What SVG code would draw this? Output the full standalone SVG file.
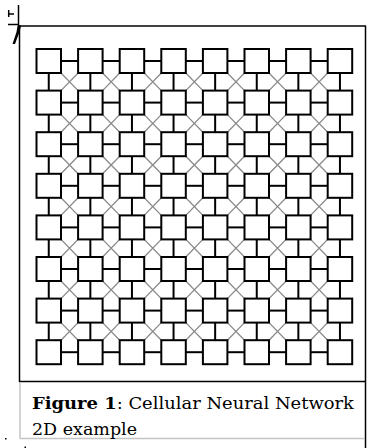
<svg xmlns="http://www.w3.org/2000/svg" xmlns:xlink="http://www.w3.org/1999/xlink" width="368" height="448" viewBox="0 0 368 448">
<style>
.sq{fill:#fff;stroke:#000;stroke-width:2}
.c{stroke:#000;stroke-width:2;fill:none}
.d{stroke:#8a8a8a;stroke-width:1.3;fill:none}
.fr{stroke:#000;stroke-width:1.5;fill:none}
.gb{stroke:#c4c4c4;stroke-width:1.5;fill:none}
.cap{font-family:"DejaVu Serif","Liberation Serif",serif;font-size:16px;fill:#000}
</style>
<defs>
<line id="h" x1="0" y1="0" x2="17.1" y2="0"/>
<line id="v" x1="0" y1="0" x2="0" y2="17.6"/>
<path id="x" d="M0 0L17.1 17.6M17.1 0L0 17.6"/>
<rect id="s" width="24.5" height="24"/>
</defs>
<rect width="368" height="448" fill="#fff"/>
<!-- top-left marks -->
<g id="marks" class="fr">
<line x1="8.7" y1="10" x2="8.7" y2="17"/>
<line x1="9" y1="14" x2="14" y2="14"/>
<line x1="8" y1="24.5" x2="19" y2="24.5"/>
<line x1="18.5" y1="5" x2="18.5" y2="26"/>
<path d="M17.5 26L21 26L19.5 32L15 44L12.5 44L16.5 32Z" fill="#000" stroke="none"/>
</g>
<!-- frame -->
<g id="frame">
<line class="fr" x1="19.5" y1="25" x2="19.5" y2="382"/>
<line class="fr" x1="19" y1="26" x2="365.5" y2="26"/>
<line class="fr" x1="19" y1="381.5" x2="365.5" y2="381.5"/>
<line class="fr" x1="365.5" y1="25.5" x2="365.5" y2="448"/>
<line class="gb" x1="20" y1="382" x2="20" y2="438.5"/>
<line class="gb" x1="20" y1="438.5" x2="364.5" y2="438.5"/>
<rect x="5" y="438" width="1.5" height="1.5" fill="#000"/>
<rect x="24.5" y="446.5" width="1.5" height="1.5" fill="#000"/>
</g>
<g id="connectors">
<g class="d">
<use href="#x" x="61" y="73"/><use href="#x" x="102.6" y="73"/><use href="#x" x="144.2" y="73"/><use href="#x" x="185.8" y="73"/><use href="#x" x="227.4" y="73"/><use href="#x" x="269" y="73"/><use href="#x" x="310.6" y="73"/>
<use href="#x" x="61" y="114.6"/><use href="#x" x="102.6" y="114.6"/><use href="#x" x="144.2" y="114.6"/><use href="#x" x="185.8" y="114.6"/><use href="#x" x="227.4" y="114.6"/><use href="#x" x="269" y="114.6"/><use href="#x" x="310.6" y="114.6"/>
<use href="#x" x="61" y="156.2"/><use href="#x" x="102.6" y="156.2"/><use href="#x" x="144.2" y="156.2"/><use href="#x" x="185.8" y="156.2"/><use href="#x" x="227.4" y="156.2"/><use href="#x" x="269" y="156.2"/><use href="#x" x="310.6" y="156.2"/>
<use href="#x" x="61" y="197.8"/><use href="#x" x="102.6" y="197.8"/><use href="#x" x="144.2" y="197.8"/><use href="#x" x="185.8" y="197.8"/><use href="#x" x="227.4" y="197.8"/><use href="#x" x="269" y="197.8"/><use href="#x" x="310.6" y="197.8"/>
<use href="#x" x="61" y="239.4"/><use href="#x" x="102.6" y="239.4"/><use href="#x" x="144.2" y="239.4"/><use href="#x" x="185.8" y="239.4"/><use href="#x" x="227.4" y="239.4"/><use href="#x" x="269" y="239.4"/><use href="#x" x="310.6" y="239.4"/>
<use href="#x" x="61" y="281"/><use href="#x" x="102.6" y="281"/><use href="#x" x="144.2" y="281"/><use href="#x" x="185.8" y="281"/><use href="#x" x="227.4" y="281"/><use href="#x" x="269" y="281"/><use href="#x" x="310.6" y="281"/>
<use href="#x" x="61" y="322.6"/><use href="#x" x="102.6" y="322.6"/><use href="#x" x="144.2" y="322.6"/><use href="#x" x="185.8" y="322.6"/><use href="#x" x="227.4" y="322.6"/><use href="#x" x="269" y="322.6"/><use href="#x" x="310.6" y="322.6"/>
</g>
<g class="c">
<use href="#h" x="61" y="61"/><use href="#h" x="102.6" y="61"/><use href="#h" x="144.2" y="61"/><use href="#h" x="185.8" y="61"/><use href="#h" x="227.4" y="61"/><use href="#h" x="269" y="61"/><use href="#h" x="310.6" y="61"/>
<use href="#h" x="61" y="102.6"/><use href="#h" x="102.6" y="102.6"/><use href="#h" x="144.2" y="102.6"/><use href="#h" x="185.8" y="102.6"/><use href="#h" x="227.4" y="102.6"/><use href="#h" x="269" y="102.6"/><use href="#h" x="310.6" y="102.6"/>
<use href="#h" x="61" y="144.2"/><use href="#h" x="102.6" y="144.2"/><use href="#h" x="144.2" y="144.2"/><use href="#h" x="185.8" y="144.2"/><use href="#h" x="227.4" y="144.2"/><use href="#h" x="269" y="144.2"/><use href="#h" x="310.6" y="144.2"/>
<use href="#h" x="61" y="185.8"/><use href="#h" x="102.6" y="185.8"/><use href="#h" x="144.2" y="185.8"/><use href="#h" x="185.8" y="185.8"/><use href="#h" x="227.4" y="185.8"/><use href="#h" x="269" y="185.8"/><use href="#h" x="310.6" y="185.8"/>
<use href="#h" x="61" y="227.4"/><use href="#h" x="102.6" y="227.4"/><use href="#h" x="144.2" y="227.4"/><use href="#h" x="185.8" y="227.4"/><use href="#h" x="227.4" y="227.4"/><use href="#h" x="269" y="227.4"/><use href="#h" x="310.6" y="227.4"/>
<use href="#h" x="61" y="269"/><use href="#h" x="102.6" y="269"/><use href="#h" x="144.2" y="269"/><use href="#h" x="185.8" y="269"/><use href="#h" x="227.4" y="269"/><use href="#h" x="269" y="269"/><use href="#h" x="310.6" y="269"/>
<use href="#h" x="61" y="310.6"/><use href="#h" x="102.6" y="310.6"/><use href="#h" x="144.2" y="310.6"/><use href="#h" x="185.8" y="310.6"/><use href="#h" x="227.4" y="310.6"/><use href="#h" x="269" y="310.6"/><use href="#h" x="310.6" y="310.6"/>
<use href="#h" x="61" y="352.2"/><use href="#h" x="102.6" y="352.2"/><use href="#h" x="144.2" y="352.2"/><use href="#h" x="185.8" y="352.2"/><use href="#h" x="227.4" y="352.2"/><use href="#h" x="269" y="352.2"/><use href="#h" x="310.6" y="352.2"/>
<use href="#v" x="48.75" y="73"/><use href="#v" x="48.75" y="114.6"/><use href="#v" x="48.75" y="156.2"/><use href="#v" x="48.75" y="197.8"/><use href="#v" x="48.75" y="239.4"/><use href="#v" x="48.75" y="281"/><use href="#v" x="48.75" y="322.6"/>
<use href="#v" x="90.35" y="73"/><use href="#v" x="90.35" y="114.6"/><use href="#v" x="90.35" y="156.2"/><use href="#v" x="90.35" y="197.8"/><use href="#v" x="90.35" y="239.4"/><use href="#v" x="90.35" y="281"/><use href="#v" x="90.35" y="322.6"/>
<use href="#v" x="131.95" y="73"/><use href="#v" x="131.95" y="114.6"/><use href="#v" x="131.95" y="156.2"/><use href="#v" x="131.95" y="197.8"/><use href="#v" x="131.95" y="239.4"/><use href="#v" x="131.95" y="281"/><use href="#v" x="131.95" y="322.6"/>
<use href="#v" x="173.55" y="73"/><use href="#v" x="173.55" y="114.6"/><use href="#v" x="173.55" y="156.2"/><use href="#v" x="173.55" y="197.8"/><use href="#v" x="173.55" y="239.4"/><use href="#v" x="173.55" y="281"/><use href="#v" x="173.55" y="322.6"/>
<use href="#v" x="215.15" y="73"/><use href="#v" x="215.15" y="114.6"/><use href="#v" x="215.15" y="156.2"/><use href="#v" x="215.15" y="197.8"/><use href="#v" x="215.15" y="239.4"/><use href="#v" x="215.15" y="281"/><use href="#v" x="215.15" y="322.6"/>
<use href="#v" x="256.75" y="73"/><use href="#v" x="256.75" y="114.6"/><use href="#v" x="256.75" y="156.2"/><use href="#v" x="256.75" y="197.8"/><use href="#v" x="256.75" y="239.4"/><use href="#v" x="256.75" y="281"/><use href="#v" x="256.75" y="322.6"/>
<use href="#v" x="298.35" y="73"/><use href="#v" x="298.35" y="114.6"/><use href="#v" x="298.35" y="156.2"/><use href="#v" x="298.35" y="197.8"/><use href="#v" x="298.35" y="239.4"/><use href="#v" x="298.35" y="281"/><use href="#v" x="298.35" y="322.6"/>
<use href="#v" x="339.95" y="73"/><use href="#v" x="339.95" y="114.6"/><use href="#v" x="339.95" y="156.2"/><use href="#v" x="339.95" y="197.8"/><use href="#v" x="339.95" y="239.4"/><use href="#v" x="339.95" y="281"/><use href="#v" x="339.95" y="322.6"/>
</g>
</g>
<g id="nodes" class="sq">
<g id="n1-1"><use href="#s" x="36.5" y="49"/></g><g id="n1-2"><use href="#s" x="78.1" y="49"/></g><g id="n1-3"><use href="#s" x="119.7" y="49"/></g><g id="n1-4"><use href="#s" x="161.3" y="49"/></g><g id="n1-5"><use href="#s" x="202.9" y="49"/></g><g id="n1-6"><use href="#s" x="244.5" y="49"/></g><g id="n1-7"><use href="#s" x="286.1" y="49"/></g><g id="n1-8"><use href="#s" x="327.7" y="49"/></g>
<g id="n2-1"><use href="#s" x="36.5" y="90.6"/></g><g id="n2-2"><use href="#s" x="78.1" y="90.6"/></g><g id="n2-3"><use href="#s" x="119.7" y="90.6"/></g><g id="n2-4"><use href="#s" x="161.3" y="90.6"/></g><g id="n2-5"><use href="#s" x="202.9" y="90.6"/></g><g id="n2-6"><use href="#s" x="244.5" y="90.6"/></g><g id="n2-7"><use href="#s" x="286.1" y="90.6"/></g><g id="n2-8"><use href="#s" x="327.7" y="90.6"/></g>
<g id="n3-1"><use href="#s" x="36.5" y="132.2"/></g><g id="n3-2"><use href="#s" x="78.1" y="132.2"/></g><g id="n3-3"><use href="#s" x="119.7" y="132.2"/></g><g id="n3-4"><use href="#s" x="161.3" y="132.2"/></g><g id="n3-5"><use href="#s" x="202.9" y="132.2"/></g><g id="n3-6"><use href="#s" x="244.5" y="132.2"/></g><g id="n3-7"><use href="#s" x="286.1" y="132.2"/></g><g id="n3-8"><use href="#s" x="327.7" y="132.2"/></g>
<g id="n4-1"><use href="#s" x="36.5" y="173.8"/></g><g id="n4-2"><use href="#s" x="78.1" y="173.8"/></g><g id="n4-3"><use href="#s" x="119.7" y="173.8"/></g><g id="n4-4"><use href="#s" x="161.3" y="173.8"/></g><g id="n4-5"><use href="#s" x="202.9" y="173.8"/></g><g id="n4-6"><use href="#s" x="244.5" y="173.8"/></g><g id="n4-7"><use href="#s" x="286.1" y="173.8"/></g><g id="n4-8"><use href="#s" x="327.7" y="173.8"/></g>
<g id="n5-1"><use href="#s" x="36.5" y="215.4"/></g><g id="n5-2"><use href="#s" x="78.1" y="215.4"/></g><g id="n5-3"><use href="#s" x="119.7" y="215.4"/></g><g id="n5-4"><use href="#s" x="161.3" y="215.4"/></g><g id="n5-5"><use href="#s" x="202.9" y="215.4"/></g><g id="n5-6"><use href="#s" x="244.5" y="215.4"/></g><g id="n5-7"><use href="#s" x="286.1" y="215.4"/></g><g id="n5-8"><use href="#s" x="327.7" y="215.4"/></g>
<g id="n6-1"><use href="#s" x="36.5" y="257"/></g><g id="n6-2"><use href="#s" x="78.1" y="257"/></g><g id="n6-3"><use href="#s" x="119.7" y="257"/></g><g id="n6-4"><use href="#s" x="161.3" y="257"/></g><g id="n6-5"><use href="#s" x="202.9" y="257"/></g><g id="n6-6"><use href="#s" x="244.5" y="257"/></g><g id="n6-7"><use href="#s" x="286.1" y="257"/></g><g id="n6-8"><use href="#s" x="327.7" y="257"/></g>
<g id="n7-1"><use href="#s" x="36.5" y="298.6"/></g><g id="n7-2"><use href="#s" x="78.1" y="298.6"/></g><g id="n7-3"><use href="#s" x="119.7" y="298.6"/></g><g id="n7-4"><use href="#s" x="161.3" y="298.6"/></g><g id="n7-5"><use href="#s" x="202.9" y="298.6"/></g><g id="n7-6"><use href="#s" x="244.5" y="298.6"/></g><g id="n7-7"><use href="#s" x="286.1" y="298.6"/></g><g id="n7-8"><use href="#s" x="327.7" y="298.6"/></g>
<g id="n8-1"><use href="#s" x="36.5" y="340.2"/></g><g id="n8-2"><use href="#s" x="78.1" y="340.2"/></g><g id="n8-3"><use href="#s" x="119.7" y="340.2"/></g><g id="n8-4"><use href="#s" x="161.3" y="340.2"/></g><g id="n8-5"><use href="#s" x="202.9" y="340.2"/></g><g id="n8-6"><use href="#s" x="244.5" y="340.2"/></g><g id="n8-7"><use href="#s" x="286.1" y="340.2"/></g><g id="n8-8"><use href="#s" x="327.7" y="340.2"/></g>
</g>
<g id="caption" class="cap">
<text x="32" y="409" textLength="322" lengthAdjust="spacingAndGlyphs"><tspan font-weight="bold">Figure 1</tspan>: Cellular Neural Network</text>
<text x="32" y="434.5" textLength="105" lengthAdjust="spacingAndGlyphs">2D example</text>
</g>
</svg>
